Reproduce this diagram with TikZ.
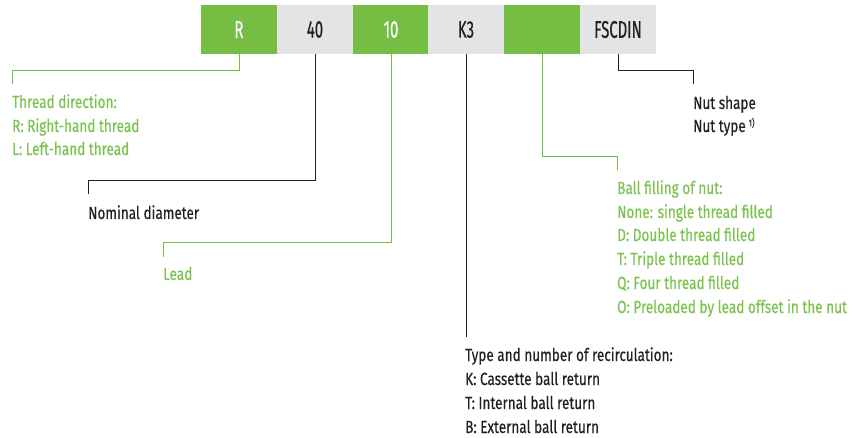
\documentclass[tikz,border=0pt]{standalone}
\usepackage{fontspec}
\setmainfont{Fira Sans}[FakeStretch=0.77,FakeBold=0.4]
\newfontfamily\boxfont{Fira Sans}[FakeStretch=0.62,FakeBold=0.4]
\definecolor{ggreen}{HTML}{76BE43}
\definecolor{ggrey}{HTML}{E3E4E6}
\definecolor{gtext}{HTML}{7CC24F}
\definecolor{dtext}{HTML}{231F20}
\tikzset{
  box/.style={minimum width=76pt,minimum height=49pt,inner sep=0pt,outer sep=0pt,anchor=north west,font=\boxfont\fontsize{24}{24}\selectfont},
  gbox/.style={box,fill=ggreen,text=white},
  ybox/.style={box,fill=ggrey,text=dtext},
  gline/.style={draw=ggreen,line width=0.9pt},
  dline/.style={draw=dtext,line width=0.9pt},
  lbl/.style={anchor=base west,inner sep=0pt,font=\fontsize{17.6}{17.6}\selectfont},
  glbl/.style={lbl,text=gtext},
  dlbl/.style={lbl,text=dtext},
}
\begin{document}
\begin{tikzpicture}[x=1pt,y=-1pt]
\useasboundingbox (0,0) rectangle (854,438);
\node[gbox] (bR) at (201,5) {R};
\node[ybox] (b40) at (277,5) {40};
\node[gbox] (b10) at (353,5) {10};
\node[ybox] (bK) at (428,5) {K3};
\node[gbox] (bB) at (504,5) {};
\node[ybox] (bF) at (580,5) {FSCDIN};

% thread direction
\coordinate (cR) at (12,84);
\draw[gline] (bR.south) |- (12,70) -- (cR);
\node[glbl] (t1) at (12,108) {Thread direction:};
\node[glbl] (t2) at (12,132) {R: Right-hand thread};
\node[glbl] (t3) at (12,155) {L: Left-hand thread};

% nominal diameter
\coordinate (c40) at (88,194);
\draw[dline] (b40.south) |- (88,180) -- (c40);
\node[dlbl] (n1) at (88,219) {Nominal diameter};

% lead
\coordinate (c10) at (163,257);
\draw[gline] (b10.south) |- (163,242) -- (c10);
\node[glbl] (l1) at (163,280) {Lead};

% recirculation
\coordinate (cK) at (466,337);
\draw[dline] (bK.south) -- (cK);
\node[dlbl] (k1) at (465,361) {Type and number of recirculation:};
\node[dlbl] (k2) at (465,385) {K: Cassette ball return};
\node[dlbl] (k3) at (465,409) {T: Internal ball return};
\node[dlbl] (k4) at (465,433) {B: External ball return};

% ball filling
\coordinate (cB) at (617,170);
\draw[gline] (bB.south) |- (617,156) -- (cB);
\node[glbl] (f1) at (617,194) {Ball filling of nut:};
\node[glbl] (f2) at (617,218) {None: single thread filled};
\node[glbl] (f3) at (617,241) {D: Double thread filled};
\node[glbl] (f4) at (617,265) {T: Triple thread filled};
\node[glbl] (f5) at (617,289) {Q: Four thread filled};
\node[glbl] (f6) at (617,313) {O: Preloaded by lead offset in the nut};

% nut shape
\coordinate (cF) at (693,84);
\draw[dline] (bF.south) |- (693,70) -- (cF);
\node[dlbl] (s1) at (693,109) {Nut shape};
\node[dlbl] (s2) at (693,132) {Nut type\,\raisebox{0.6ex}{\fontsize{10}{10}\selectfont 1)}};
\end{tikzpicture}
\end{document}
